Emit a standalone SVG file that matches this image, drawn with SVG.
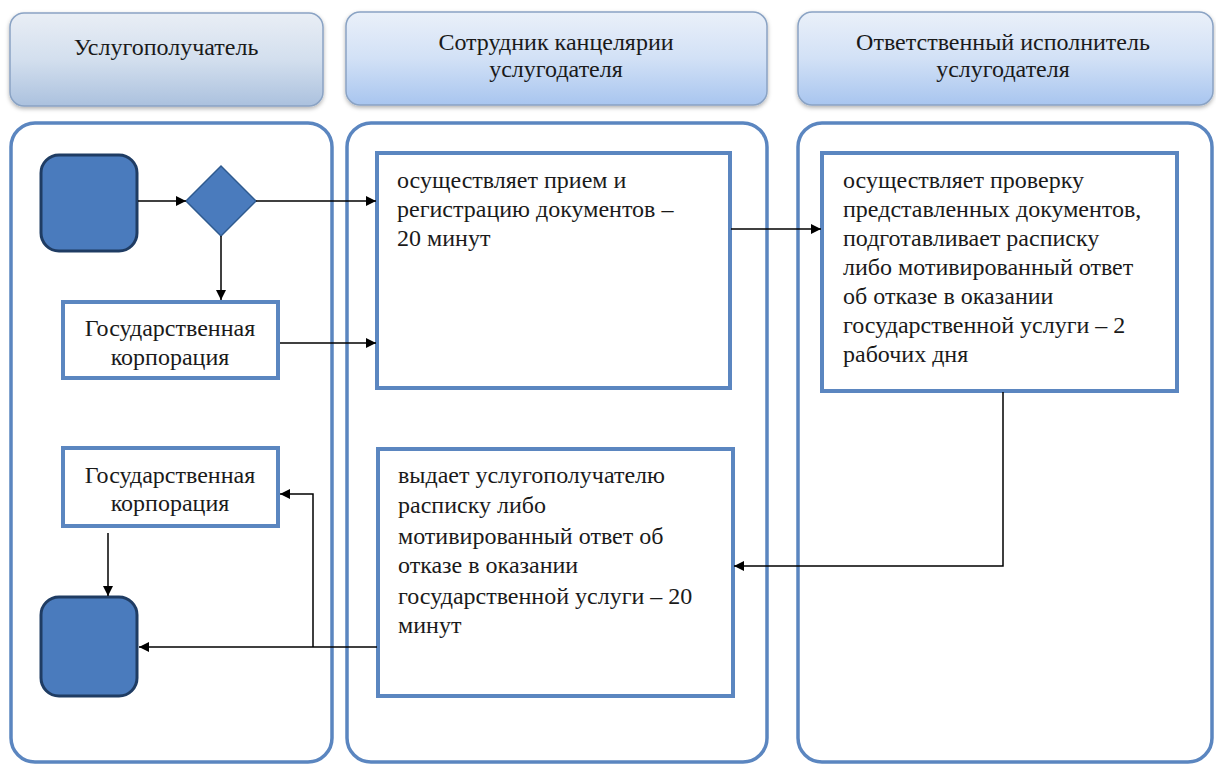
<svg xmlns="http://www.w3.org/2000/svg" width="1216" height="765" viewBox="0 0 1216 765">
<style>
text{font-family:"Liberation Serif","Times New Roman",serif;font-size:24px;fill:#1a1a1a}
.c{text-anchor:middle}
.hd{stroke:#8aa3c4;stroke-width:1.5}
.lane{fill:#fff;stroke:#5b86c0;stroke-width:3.5}
.box{fill:#fff;stroke:#5b86c0;stroke-width:4}
.term{fill:#4a7bbd;stroke:#1f3c63;stroke-width:3}
.conn{fill:none;stroke:#000;stroke-width:1.5}
</style>
<defs>
<linearGradient id="g1" x1="0" y1="0" x2="0" y2="1"><stop offset="0" stop-color="#e9eef5"/><stop offset="0.5" stop-color="#d3dfee"/><stop offset="1" stop-color="#abc1de"/></linearGradient>
<linearGradient id="g2" x1="0" y1="0" x2="0" y2="1"><stop offset="0" stop-color="#eaf0f9"/><stop offset="0.5" stop-color="#d2e1f6"/><stop offset="1" stop-color="#a8c5ef"/></linearGradient>
<filter id="sh" x="-5%" y="-5%" width="110%" height="120%"><feDropShadow dx="0" dy="2" stdDeviation="2" flood-color="#000" flood-opacity="0.3"/></filter>
<marker id="ah" viewBox="0 0 10 10" refX="10" refY="5" markerWidth="10" markerHeight="10" markerUnits="userSpaceOnUse" orient="auto"><path d="M0,0 L10,5 L0,10 z" fill="#000"/></marker>
</defs>
<rect width="1216" height="765" fill="#fff"/>
<g id="header1"><rect class="hd" x="10" y="13" width="313" height="93" rx="14" fill="url(#g1)" filter="url(#sh)"/><text class="c" x="166" y="55">Услугополучатель</text></g>
<g id="header2"><rect class="hd" x="346" y="12" width="421" height="93" rx="14" fill="url(#g2)" filter="url(#sh)"/><text class="c" x="556" y="50">Сотрудник канцелярии</text><text class="c" x="556" y="77">услугодателя</text></g>
<g id="header3"><rect class="hd" x="798" y="12" width="415" height="93" rx="14" fill="url(#g2)" filter="url(#sh)"/><text class="c" x="1003" y="50">Ответственный исполнитель</text><text class="c" x="1003" y="77">услугодателя</text></g>
<g id="lane1"><rect class="lane" x="11" y="123" width="321" height="639" rx="24"/></g>
<g id="lane2"><rect class="lane" x="347" y="123" width="420" height="639" rx="24"/></g>
<g id="lane3"><rect class="lane" x="798" y="123" width="414" height="639" rx="24"/></g>
<g id="start"><rect class="term" x="41" y="155" width="96" height="96" rx="18"/></g>
<g id="gateway"><polygon points="186,201 221,166 256,201 221,236" fill="#4a7bbd" stroke="#2f5a8f" stroke-width="1.5"/></g>
<g id="gk1"><rect class="box" x="63" y="302" width="215" height="76"/><text class="c" x="170" y="336">Государственная</text><text class="c" x="170" y="365">корпорация</text></g>
<g id="task1"><rect class="box" x="377" y="153" width="353" height="235"/><text x="397" y="188">осуществляет прием и</text><text x="397" y="217">регистрацию документов –</text><text x="397" y="246">20 минут</text></g>
<g id="task2"><rect class="box" x="822" y="153" width="355" height="238"/><text x="843" y="188">осуществляет проверку</text><text x="843" y="217">представленных документов,</text><text x="843" y="246">подготавливает расписку</text><text x="843" y="275">либо мотивированный ответ</text><text x="843" y="304">об отказе в оказании</text><text x="843" y="333">государственной услуги – 2</text><text x="843" y="362">рабочих дня</text></g>
<g id="task3"><rect class="box" x="378" y="449" width="355" height="247"/><text x="398" y="483">выдает услугополучателю</text><text x="398" y="513">расписку либо</text><text x="398" y="544">мотивированный ответ об</text><text x="398" y="573">отказе в оказании</text><text x="398" y="604">государственной услуги – 20</text><text x="398" y="633">минут</text></g>
<g id="gk2"><rect class="box" x="63" y="448" width="215" height="78"/><text class="c" x="170" y="483">Государственная</text><text class="c" x="170" y="511">корпорация</text></g>
<g id="end"><rect class="term" x="41" y="597" width="96" height="99" rx="18"/></g>
<g id="connectors">
<path class="conn" d="M138,201 L186,201" marker-end="url(#ah)"/>
<path class="conn" d="M256,201 L376,201" marker-end="url(#ah)"/>
<path class="conn" d="M221,236 L221,300" marker-end="url(#ah)"/>
<path class="conn" d="M280,343 L376,343" marker-end="url(#ah)"/>
<path class="conn" d="M731,229 L821,229" marker-end="url(#ah)"/>
<path class="conn" d="M1003,392 L1003,566 L734,566" marker-end="url(#ah)"/>
<path class="conn" d="M377,647 L139,647" marker-end="url(#ah)"/>
<path class="conn" d="M313,647 L313,494 L280,494" marker-end="url(#ah)"/>
<path class="conn" d="M108,533 L108,596" marker-end="url(#ah)"/>
</g>
</svg>
